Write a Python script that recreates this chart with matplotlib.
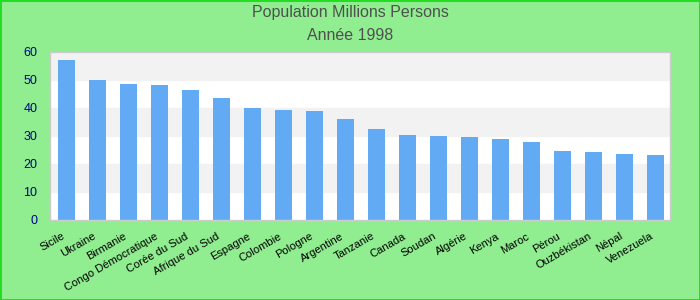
import numpy as np
import matplotlib.pyplot as plt

plt.rcParams['font.family'] = ['Liberation Sans', 'DejaVu Sans']

# Population 1998, millions
countries = ['Sicile', 'Ukraine', 'Birmanie', 'Congo Démocratique', 'Corée du Sud',
             'Afrique du Sud', 'Espagne', 'Colombie', 'Pologne', 'Argentine',
             'Tanzanie', 'Canada', 'Soudan', 'Algérie', 'Kenya', 'Maroc', 'Pérou',
             'Ouzbékistan', 'Népal', 'Venezuela']
population = [57.0, 49.9, 48.5, 48.1, 46.3, 43.5, 39.9, 39.2, 38.9, 36.0,
              32.4, 30.3, 29.9, 29.6, 28.9, 27.8, 24.6, 24.2, 23.5, 23.2]
yticks = [0, 10, 20, 30, 40, 50, 60]

fig = plt.figure(figsize=(7, 3), dpi=100, facecolor='#90ee90',
                 edgecolor='#22dd22', linewidth=2)
ax = fig.add_axes([50 / 700, 80 / 300, 620 / 700, 168.3 / 300])
ax.set_facecolor('white')

# alternating horizontal bands
for i in range(len(yticks) - 1):
    if i % 2 == 1:
        ax.axhspan(yticks[i], yticks[i + 1], color='#f2f2f2', zorder=0)

x = np.arange(len(countries))
ax.bar(x, population, width=0.55, color='#63aaf5', zorder=2)

ax.set_xlim(-0.53, len(countries) - 0.53)
ax.set_ylim(0, 60)
ax.set_yticks(yticks)
ax.tick_params(axis='y', length=0, pad=9, labelsize=9, labelcolor='#00008b')
ax.set_xticks(x)
ax.set_xticklabels(countries, rotation=30, ha='right', fontsize=8)
ax.tick_params(axis='x', length=0, pad=8)

for s in ax.spines.values():
    s.set_color('#cccccc')
    s.set_linewidth(1)

fig.text(0.5, 1 - 13 / 300, 'Population Millions Persons', ha='center', va='center',
         fontsize=11.5, color='#505050')
fig.text(0.5, 1 - 36 / 300, 'Année 1998', ha='center', va='center',
         fontsize=11.5, color='#505050')

fig.savefig('out.png', dpi=100, facecolor=fig.get_facecolor(), edgecolor=fig.get_edgecolor())
